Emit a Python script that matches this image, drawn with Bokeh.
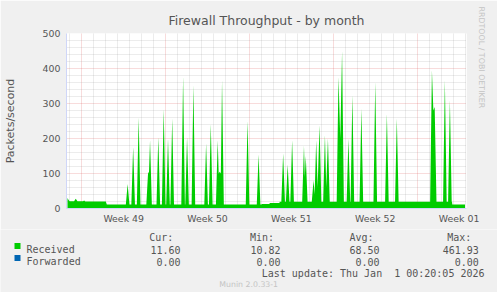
import math
from bokeh.plotting import figure
from bokeh.layouts import column
from bokeh.models import Range1d, FixedTicker, Grid, Title
from bokeh.core.properties import value
from bokeh.embed import file_html
from bokeh.resources import INLINE

# ---------------- data (time in days since graph start) ----------------
week_labels = ["Week 49", "Week 50", "Week 51", "Week 52", "Week 01"]
week_starts = [1.19, 8.19, 15.19, 22.19, 29.19]          # Monday 00:00 lines
week_centers = [4.69, 11.69, 18.69, 25.69, 32.69]        # label positions

sample_day = [
    0.00, 0.08, 0.17, 0.55, 0.69, 0.83, 1.30, 1.39, 1.48, 3.20, 3.28,
    4.87, 5.02, 5.17,
    5.33, 5.48, 5.63,
    5.79, 5.94, 6.09,
    6.58, 6.73, 6.80, 6.89, 7.04,
    7.43, 7.58, 7.73,
    7.88, 8.03, 8.18,
    8.24, 8.39, 8.54,
    8.59, 8.74, 8.89,
    9.50, 9.65, 9.80,
    9.83, 9.98, 10.13,
    10.36, 10.51, 10.66,
    11.42, 11.57, 11.72,
    11.81, 11.96, 12.11,
    12.39, 12.54, 12.62, 12.71, 12.80, 12.90, 13.05,
    14.88, 15.03, 15.18,
    15.80, 15.95, 16.10,
    16.20, 16.22, 16.86, 16.88, 17.69, 17.71,
    17.85, 18.00, 18.15,
    18.23, 18.38, 18.53,
    18.60, 18.75, 18.90,
    19.59, 19.74, 19.81, 19.89, 20.04,
    20.39, 20.54, 20.63, 20.76, 20.88, 21.04, 21.19,
    21.34, 21.49, 21.60, 21.74, 21.89,
    22.47, 22.62, 22.77, 22.92, 23.07,
    23.30, 23.45, 23.60,
    23.63, 23.78, 23.93,
    24.38, 24.53, 24.68,
    25.54, 25.69, 25.84,
    26.51, 26.66, 26.81,
    27.34, 27.49, 27.64,
    30.27, 30.42, 30.54, 30.65, 30.80,
    31.35, 31.50, 31.65,
    31.77, 31.92, 32.07,
    32.10, 32.12, 33.18,
]
received = [
    30, 25, 21, 21, 28, 21, 21, 23, 20, 20, 11.6,
    11.6, 70, 11.6,
    11.6, 176, 11.6,
    11.6, 260, 11.6,
    11.6, 105, 100, 195, 11.6,
    11.6, 204, 11.6,
    11.6, 284, 11.6,
    11.6, 200, 11.6,
    11.6, 257, 11.6,
    11.6, 378, 11.6,
    11.6, 204, 11.6,
    11.6, 353, 11.6,
    11.6, 186, 11.6,
    11.6, 242, 11.6,
    11.6, 195, 100, 105, 100, 367, 11.6,
    11.6, 250, 11.6,
    11.6, 154, 11.6,
    11.6, 13, 13, 16, 16, 19.5,
    19.5, 157, 19.5,
    19.5, 126, 19.5,
    19.5, 195, 19.5,
    19.5, 179, 90, 150, 19.5,
    19.5, 81, 40, 195, 60, 238, 19.5,
    19.5, 210, 60, 200, 19.5,
    19.5, 376, 200, 450, 19.5,
    19.5, 200, 19.5,
    19.5, 324, 19.5,
    19.5, 286, 19.5,
    19.5, 362, 19.5,
    19.5, 271, 19.5,
    19.5, 257, 19.5,
    19.5, 395, 280, 290, 19.5,
    19.5, 367, 19.5,
    19.5, 310, 19.5,
    19.5, 11.6, 11.6,
]
assert len(sample_day) == len(received)

y_ticks = [0, 100, 200, 300, 400, 500]
series_names = ["Received", "Forwarded"]
series_colors = ["#00CC00", "#0066B3"]
stat_heads = ["Cur:", "Min:", "Avg:", "Max:"]
stats_received = ["11.60", "10.82", "68.50", "461.93"]
stats_forwarded = ["0.00", "0.00", "0.00", "0.00"]
last_update = "Last update: Thu Jan \u00a01 00:20:05 2026"

# ---------------- styling constants ----------------
W, H = 497, 292
FL, FR, FT, FB = 66, 468, 33, 208
H1 = 229                      # height of the chart part, legend below
FONT = "DejaVu Sans"
MONO = "DejaVu Sans Mono"
TXT = "#555555"
WM = "#c4c4c4"
AXIS = "#CFD6F8"
GRAY = "#8f8f8f"
RED = "#de4f4f"
BG = "#F0F0F0"

# ---------------- chart ----------------
p = figure(width=W, height=H1, output_backend="svg", toolbar_location=None,
           x_range=Range1d(-0.083, 33.306), y_range=Range1d(0, 500),
           min_border_left=FL, min_border_right=W - FR,
           min_border_top=FT, min_border_bottom=H1 - FB,
           background_fill_color="#FFFFFF", border_fill_color=BG,
           outline_line_color=None,
           title="Firewall Throughput - by month")
p.title.align = "center"
p.title.offset = -19
p.title.text_font = FONT
p.title.text_font_size = "12.5px"
p.title.text_font_style = "normal"
p.title.text_color = TXT
if "standoff" in p.title.properties():
    p.title.standoff = 12

p.xgrid.ticker = FixedTicker(ticks=week_starts)
p.ygrid.ticker = FixedTicker(ticks=[100, 200, 300, 400, 500])
for g in (p.xgrid, p.ygrid):
    g.grid_line_color = RED
    g.grid_line_alpha = 0.4
    g.grid_line_dash = "1 1"

minor_x = [week_starts[0] + k for k in range(-1, 33) if k % 7 != 0]
minor_y = [v for v in range(20, 500, 20) if v % 100 != 0]
p.add_layout(Grid(dimension=0, ticker=FixedTicker(ticks=minor_x),
                  grid_line_color=GRAY, grid_line_alpha=0.35, grid_line_dash="1 1"))
p.add_layout(Grid(dimension=1, ticker=FixedTicker(ticks=minor_y),
                  grid_line_color=GRAY, grid_line_alpha=0.35, grid_line_dash="1 1"))

p.varea(x=sample_day, y1=[0] * len(received), y2=received, color=series_colors[0])

for ax in (p.xaxis, p.yaxis):
    ax.axis_line_color = AXIS
    ax.major_tick_line_color = None
    ax.minor_tick_line_color = None
    ax.major_tick_out = 0
    ax.major_tick_in = 0
    ax.minor_tick_out = 0
    ax.minor_tick_in = 0
    ax.major_label_text_font = FONT
    ax.major_label_text_font_size = "9.4px"
    ax.major_label_text_color = TXT

p.xaxis.ticker = FixedTicker(ticks=week_centers)
p.xaxis.major_label_overrides = {c: l for c, l in zip(week_centers, week_labels)}
p.xaxis.major_label_standoff = 4
p.yaxis.ticker = FixedTicker(ticks=y_ticks)
p.yaxis.major_label_standoff = 6
p.yaxis.axis_label = "Packets/second"
p.yaxis.axis_label_text_font = FONT
p.yaxis.axis_label_text_font_size = "11px"
p.yaxis.axis_label_text_font_style = "normal"
p.yaxis.axis_label_text_color = TXT
p.yaxis.axis_label_standoff = 23

wm = Title(text="RRDTOOL / TOBI OETIKER", align="left", offset=-27, text_font=FONT,
           text_font_size="7.9px", text_font_style="normal", text_color=WM)
if "standoff" in wm.properties():
    wm.standoff = 20
p.add_layout(wm, "right")

# ---------------- legend strip (canvas pixel coordinates) ----------------
q = figure(width=W, height=H - H1, output_backend="svg", toolbar_location=None,
           x_range=Range1d(0, W), y_range=Range1d(H, H1),
           x_axis_location=None, y_axis_location=None,
           min_border=0, min_border_left=0, min_border_right=0,
           min_border_top=0, min_border_bottom=0,
           background_fill_color=BG, border_fill_color=BG,
           outline_line_color=None)
q.grid.visible = False
for fig in (p, q):
    if "frame_align" in fig.properties():
        fig.frame_align = False

row_y = [249.2, 261.1]
q.quad(left=[14, 14], right=[20, 20],
       top=[y - 6.6 for y in row_y], bottom=[y - 0.6 for y in row_y],
       color=series_colors, line_color=None)

head_x = [148.7, 249.4, 349.0, 446.7]
val_right = [180.0, 280.0, 379.0, 478.3]
mono = dict(text_font=value(MONO), text_font_size=value("10px"),
            text_color=TXT, text_baseline=value("alphabetic"))
q.text(x=head_x, y=[237.2] * 4, text=stat_heads, text_align=value("left"), **mono)
q.text(x=[26.0, 26.0], y=row_y, text=series_names, text_align=value("left"), **mono)
q.text(x=val_right * 2, y=[row_y[0]] * 4 + [row_y[1]] * 4,
       text=stats_received + stats_forwarded, text_align=value("right"), **mono)
q.text(x=[484.0], y=[272.8], text=[last_update], text_align=value("right"), **mono)
q.text(x=[248.2], y=[283.6], text=["Munin 2.0.33-1"], text_align=value("center"),
       text_font=value(FONT), text_font_size=value("7.8px"), text_color=WM,
       text_baseline=value("alphabetic"))

layout = column(p, q, spacing=0)
open("out.html", "w").write(file_html(layout, INLINE))
